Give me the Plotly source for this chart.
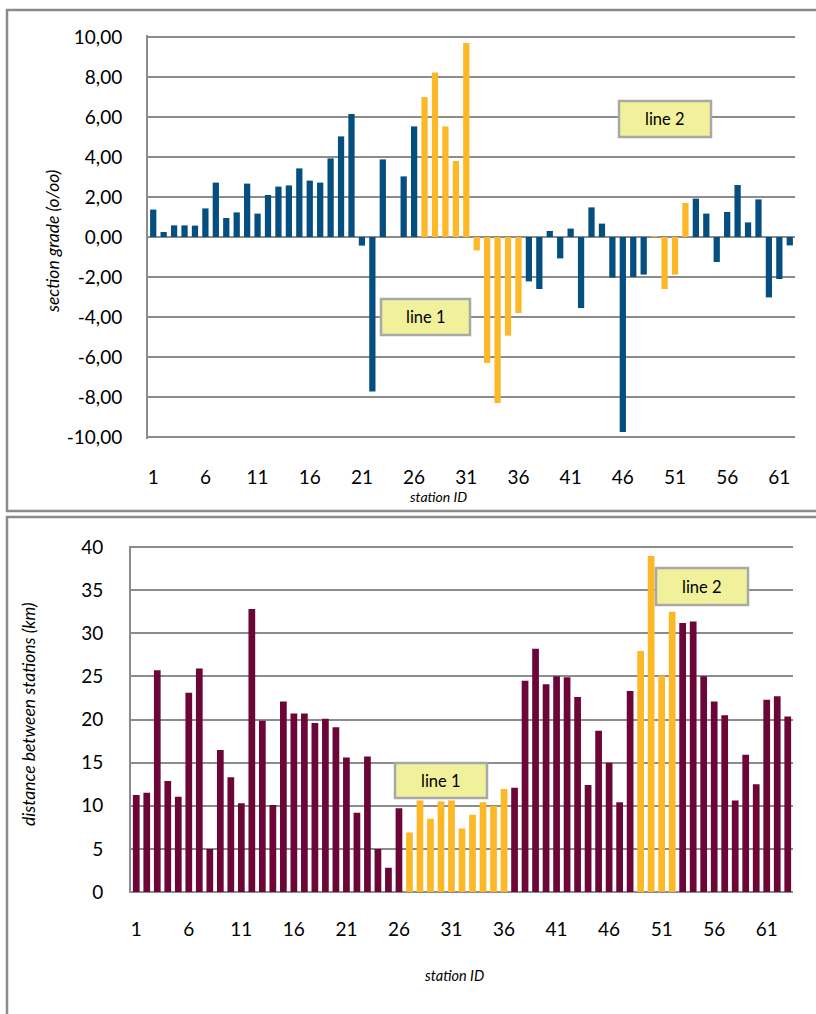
import plotly.graph_objects as go

# ---------------- data ----------------
grade_stations = list(range(1, 63))
grade = [1.37, 0.25, 0.58, 0.58, 0.57, 1.43, 2.72, 0.95, 1.23, 2.67,
         1.17, 2.10, 2.52, 2.58, 3.43, 2.82, 2.72, 3.93, 5.03, 6.15,
         -0.43, -7.72, 3.88, 0.0, 3.03, 5.53, 7.00, 8.23, 5.53, 3.80,
         9.70, -0.67, -6.30, -8.30, -4.93, -3.80, -2.22, -2.60, 0.30, -1.07,
         0.42, -3.55, 1.48, 0.67, -2.03, -9.75, -2.00, -1.88, 0.05, -2.60,
         -1.88, 1.70, 1.92, 1.17, -1.25, 1.25, 2.60, 0.73, 1.88, -3.02,
         -2.10, -0.42]

dist_stations = list(range(1, 64))
distance = [11.24, 11.5, 25.7, 12.86, 11.04, 23.1, 25.9, 4.98, 16.45, 13.3,
            10.3, 32.8, 19.85, 10.1, 22.1, 20.7, 20.7, 19.6, 20.1, 19.1,
            15.6, 9.2, 15.7, 4.98, 2.8, 9.7, 6.9, 10.6, 8.5, 10.5,
            10.6, 7.37, 8.96, 10.4, 9.96, 11.93, 12.1, 24.5, 28.2, 24.1,
            25.0, 24.9, 22.6, 12.4, 18.7, 15.0, 10.4, 23.3, 27.95, 38.96,
            25.1, 32.5, 31.2, 31.35, 25.0, 22.1, 20.5, 10.6, 15.9, 12.5,
            22.3, 22.7, 20.35]

line1_stations = list(range(27, 37))
line2_stations = list(range(49, 53))

x_tickvals = [1, 6, 11, 16, 21, 26, 31, 36, 41, 46, 51, 56, 61]
x_ticktext = ["1", "6", "11", "16", "21", "26", "31", "36", "41", "46", "51", "56", "61"]
grade_tickvals = [-10, -8, -6, -4, -2, 0, 2, 4, 6, 8, 10]
grade_ticktext = ["-10,00", "-8,00", "-6,00", "-4,00", "-2,00", "0,00",
                  "2,00", "4,00", "6,00", "8,00", "10,00"]
dist_tickvals = [0, 5, 10, 15, 20, 25, 30, 35, 40]
dist_ticktext = ["0", "5", "10", "15", "20", "25", "30", "35", "40"]

# ---------------- style ----------------
W, H = 816, 1014
BLUE = "#044F7F"
YELLOW = "#FCB827"
MAROON = "#6C0636"
GRID = "#8C8C8C"
FRAME = "#8A8A8A"
CALLOUT_FILL = "#F1F19B"
CALLOUT_LINE = "#A8A8A8"
FONT = "Lato"
highlight = set(line1_stations) | set(line2_stations)


def px(x):
    return x / W


def py(y):
    return 1 - y / H


grade_colors = [YELLOW if s in highlight else BLUE for s in grade_stations]
dist_colors = [YELLOW if s in highlight else MAROON for s in dist_stations]

fig = go.Figure()
fig.add_trace(go.Bar(x=grade_stations, y=grade, marker_color=grade_colors,
                     marker_line_width=0, width=0.6, xaxis="x", yaxis="y",
                     showlegend=False))
fig.add_trace(go.Bar(x=dist_stations, y=distance, marker_color=dist_colors,
                     marker_line_width=0, width=0.64, xaxis="x2", yaxis="y2",
                     showlegend=False))

tickfont = dict(family=FONT, size=19, color="#000000")

fig.update_layout(
    width=W, height=H, autosize=False,
    margin=dict(l=0, r=0, t=0, b=0),
    paper_bgcolor="white", plot_bgcolor="white",
    font=dict(family=FONT, color="#000000"),
    xaxis=dict(domain=[px(148), px(795)], range=[0.5, 62.5],
               tickmode="array", tickvals=x_tickvals, ticktext=x_ticktext,
               tickfont=tickfont, showgrid=False, zeroline=False,
               showline=False, ticks="", ticklabelstandoff=25, anchor="y",
               automargin=False),
    yaxis=dict(domain=[py(439), py(35)], range=[-10.1, 10.1],
               tickmode="array", tickvals=grade_tickvals, ticktext=grade_ticktext,
               tickfont=tickfont, showgrid=True, gridcolor=GRID, gridwidth=2,
               zeroline=False, showline=True, linecolor=GRID, linewidth=2,
               ticks="", ticklabelstandoff=20, anchor="x", automargin=False),
    xaxis2=dict(domain=[px(131), px(793)], range=[0.5, 63.5],
                tickmode="array", tickvals=x_tickvals, ticktext=x_ticktext,
                tickfont=tickfont, showgrid=False, zeroline=False,
                showline=False, ticks="", ticklabelstandoff=23, anchor="y2",
                automargin=False),
    yaxis2=dict(domain=[py(893.3), py(545.7)], range=[-0.15, 40.15],
                tickmode="array", tickvals=dist_tickvals, ticktext=dist_ticktext,
                tickfont=tickfont, showgrid=True, gridcolor=GRID, gridwidth=2,
                zeroline=False, showline=True, linecolor=GRID, linewidth=2,
                ticks="", ticklabelstandoff=22, anchor="x2", automargin=False),
)

shapes = []
# panel frames
shapes.append(dict(type="rect", xref="paper", yref="paper",
                   x0=px(7), x1=px(830), y0=py(511), y1=py(10),
                   line=dict(color=FRAME, width=2.5), fillcolor="rgba(0,0,0,0)",
                   layer="below"))
shapes.append(dict(type="rect", xref="paper", yref="paper",
                   x0=px(7), x1=px(830), y0=py(1030), y1=py(517),
                   line=dict(color=FRAME, width=2.5), fillcolor="rgba(0,0,0,0)",
                   layer="below"))

callouts = [
    ("line 1", 381, 470, 299, 335),
    ("line 2", 619, 711, 101, 137),
    ("line 1", 395, 487, 763, 798),
    ("line 2", 656, 748, 568, 605),
]
annotations = []
for text, x0, x1, y0, y1 in callouts:
    shapes.append(dict(type="rect", xref="paper", yref="paper",
                       x0=px(x0), x1=px(x1), y0=py(y1), y1=py(y0),
                       line=dict(color=CALLOUT_LINE, width=2.5),
                       fillcolor=CALLOUT_FILL, layer="above"))
    annotations.append(dict(text=text, xref="paper", yref="paper",
                            x=px((x0 + x1) / 2), y=py((y0 + y1) / 2),
                            showarrow=False, xanchor="center", yanchor="middle",
                            font=dict(family=FONT, size=16.5, color="#000000")))

# axis titles
annotations.append(dict(text="<i>station ID</i>", xref="paper", yref="paper",
                        x=px(438), y=py(497), showarrow=False,
                        xanchor="center", yanchor="middle",
                        font=dict(family=FONT, size=14)))
annotations.append(dict(text="<i>station ID</i>", xref="paper", yref="paper",
                        x=px(454), y=py(975), showarrow=False,
                        xanchor="center", yanchor="middle",
                        font=dict(family=FONT, size=14.5)))
annotations.append(dict(text="<i>section grade (o/oo)</i>", xref="paper", yref="paper",
                        x=px(52), y=py(242), showarrow=False, textangle=-90,
                        xanchor="center", yanchor="middle",
                        font=dict(family=FONT, size=17.5)))
annotations.append(dict(text="<i>distance between stations (km)</i>", xref="paper",
                        yref="paper", x=px(28), y=py(714), showarrow=False,
                        textangle=-90, xanchor="center", yanchor="middle",
                        font=dict(family=FONT, size=17.5)))

fig.update_layout(shapes=shapes, annotations=annotations)

# pin the figure to the top-left corner of the page (no body margin / scrollbars)
pin_js = ("var gd=document.getElementById('{plot_id}');"
          "document.documentElement.style.overflow='hidden';"
          "document.body.style.margin='0';"
          "gd.style.position='fixed';gd.style.left='0px';gd.style.top='0px';")
fig.write_html("out.html", post_script=pin_js,
               config={"displayModeBar": False, "staticPlot": True})
